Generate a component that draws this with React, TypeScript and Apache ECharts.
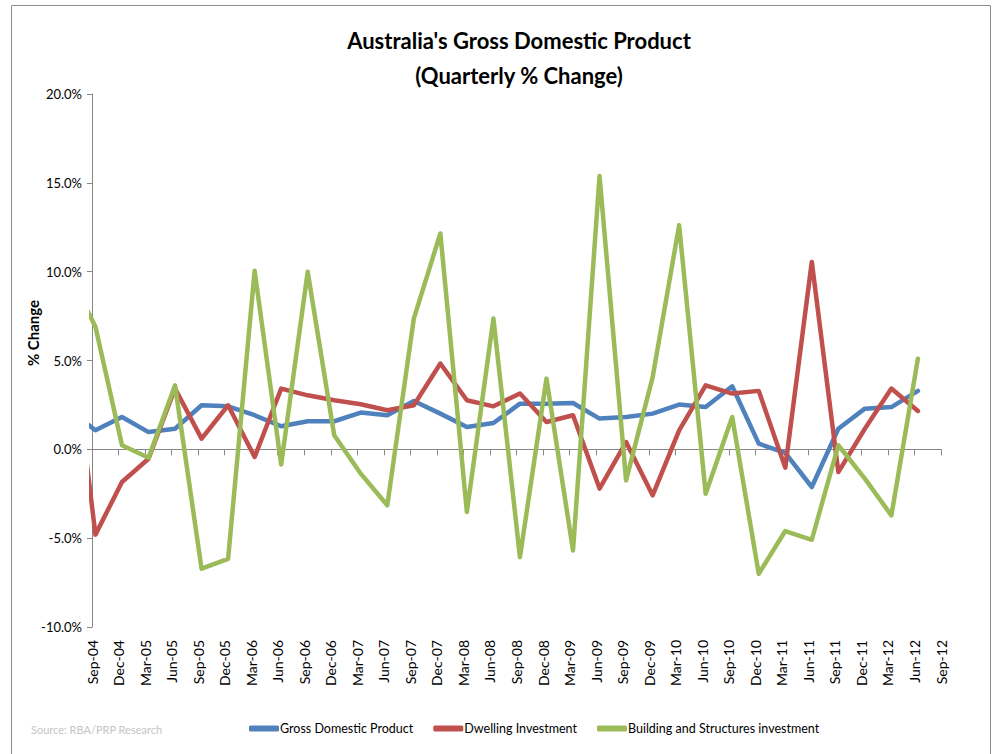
import React, { useEffect, useRef } from "react";
import * as echarts from "echarts";

// Quarter labels on the x axis
const categories = [
  "Sep-04", "Dec-04", "Mar-05", "Jun-05", "Sep-05", "Dec-05", "Mar-06", "Jun-06",
  "Sep-06", "Dec-06", "Mar-07", "Jun-07", "Sep-07", "Dec-07", "Mar-08", "Jun-08",
  "Sep-08", "Dec-08", "Mar-09", "Jun-09", "Sep-09", "Dec-09", "Mar-10", "Jun-10",
  "Sep-10", "Dec-10", "Mar-11", "Jun-11", "Sep-11", "Dec-11", "Mar-12", "Jun-12",
  "Sep-12",
];

// Jun-04 values (partly hidden behind the y axis)
const priorGdp = 2.2;
const priorDwelling = 7.5;
const priorBuilding = 9.9;

// Sep-04 .. Jun-12 quarterly % change
const gdp = [
  1.07, 1.82, 0.97, 1.16, 2.48, 2.42, 1.92, 1.3, 1.58, 1.58, 2.07, 1.92, 2.72, 2.01, 1.26, 1.48,
  2.57, 2.57, 2.61, 1.73, 1.82, 2.01, 2.52, 2.38, 3.55, 0.32, -0.2, -2.12, 1.16, 2.29, 2.38, 3.29,
];
const dwelling = [
  -4.8, -1.84, -0.53, 3.42, 0.6, 2.48, -0.43, 3.42, 3.04, 2.76, 2.54, 2.2, 2.48, 4.83, 2.76, 2.42,
  3.14, 1.54, 1.92, -2.21, 0.41, -2.59, 1.07, 3.6, 3.14, 3.29, -1.03, 10.55, -1.28, 1.16, 3.42, 2.16,
];
const building = [
  6.9, 0.23, -0.47, 3.6, -6.72, -6.16, 10.05, -0.85, 9.99, 0.79, -1.37, -3.15, 7.36, 12.15, -3.53, 7.36,
  -6.07, 3.98, -5.69, 15.38, -1.75, 4.05, 12.62, -2.5, 1.82, -7.0, -4.6, -5.09, 0.23, -1.65, -3.72, 5.1,
];

const yTicks = { min: -10, max: 20, interval: 5 };

// points sit slightly after each quarter's tick mark
const OFFSET = 0.13;

const FONT = "Lato, 'Noto Sans', sans-serif";

function toPoints(prior: number, values: number[]) {
  return [[-1 + OFFSET, prior], ...values.map((v, i) => [i + OFFSET, v])];
}

export default function App() {
  const ref = useRef<HTMLDivElement>(null);

  useEffect(() => {
    if (!ref.current) return;
    const chart = echarts.init(ref.current, undefined, { renderer: "svg" });
    const axisColor = "#868686";
    const lineSeries = (name: string, color: string, data: number[][]) => ({
      name,
      type: "line",
      xAxisIndex: 0,
      data,
      showSymbol: false,
      symbol: "none",
      clip: true,
      lineStyle: { color, width: 4.5, cap: "round", join: "round" },
      itemStyle: { color },
    });
    chart.setOption({
      animation: false,
      backgroundColor: "#ffffff",
      textStyle: { fontFamily: FONT },
      title: {
        text: "Australia's Gross Domestic Product\n(Quarterly % Change)",
        left: 514,
        top: 18,
        textAlign: "center",
        textStyle: {
          fontFamily: FONT,
          fontSize: 22,
          fontWeight: "bold",
          lineHeight: 35,
          color: "#000",
        },
      },
      grid: { left: 92, right: 53, top: 94, bottom: 127, containLabel: false },
      legend: {
        left: 244,
        top: 717,
        icon: "roundRect",
        itemWidth: 30,
        itemHeight: 6,
        itemGap: 20,
        textStyle: { fontFamily: FONT, fontSize: 12.5, color: "#000", padding: [0, 0, 0, -4] },
        data: ["Gross Domestic Product", "Dwelling Investment", "Building and Structures investment"],
      },
      xAxis: [
        {
          type: "value",
          min: 0,
          max: categories.length - 1,
          interval: 1,
          position: "bottom",
          axisLine: { show: false, onZero: false },
          axisTick: { show: false },
          splitLine: { show: false },
          axisLabel: {
            rotate: 90,
            margin: 13,
            fontSize: 14,
            color: "#000",
            fontFamily: FONT,
            padding: [7, 0, 0, 0],
            formatter: (v: number) => categories[Math.round(v)] ?? "",
          },
        },
        {
          type: "value",
          min: 0,
          max: categories.length - 1,
          interval: 1,
          position: "top",
          axisLine: { show: true, onZero: true, lineStyle: { color: axisColor, width: 1 } },
          axisTick: { show: true, inside: true, length: 6, lineStyle: { color: axisColor } },
          axisLabel: { show: false },
          splitLine: { show: false },
        },
      ],
      yAxis: {
        type: "value",
        min: yTicks.min,
        max: yTicks.max,
        interval: yTicks.interval,
        axisLine: { show: true, onZero: false, lineStyle: { color: axisColor, width: 1 } },
        axisTick: { show: true, length: 5, lineStyle: { color: axisColor } },
        splitLine: { show: false },
        axisLabel: {
          fontSize: 13,
          color: "#000",
          margin: 10,
          fontFamily: FONT,
          formatter: (v: number) => v.toFixed(1) + "%",
        },
      },
      graphic: [
        {
          type: "rect",
          shape: { x: 11.5, y: 5.5, width: 979, height: 760 },
          style: { fill: "none", stroke: "#8c8c8c", lineWidth: 1 },
          silent: true,
        },
        {
          type: "text",
          x: 33,
          y: 333,
          rotation: Math.PI / 2,
          style: {
            text: "% Change",
            fontFamily: FONT,
            fontSize: 15,
            fontWeight: "bold",
            fill: "#000",
            textAlign: "center",
            textVerticalAlign: "middle",
          },
        },
        {
          type: "text",
          x: 31,
          y: 729,
          style: {
            text: "Source: RBA/PRP Research",
            fontFamily: FONT,
            fontSize: 11,
            fill: "#c4c4c4",
            textAlign: "left",
            textVerticalAlign: "middle",
          },
        },
      ],
      series: [
        lineSeries("Gross Domestic Product", "#4F81BD", toPoints(priorGdp, gdp)),
        lineSeries("Dwelling Investment", "#C0504D", toPoints(priorDwelling, dwelling)),
        lineSeries("Building and Structures investment", "#9BBB59", toPoints(priorBuilding, building)),
      ],
    });
    return () => chart.dispose();
  }, []);

  return (
    <div
      ref={ref}
      style={{ position: "fixed", left: 0, top: 0, width: 994, height: 754, background: "#fff" }}
    />
  );
}
